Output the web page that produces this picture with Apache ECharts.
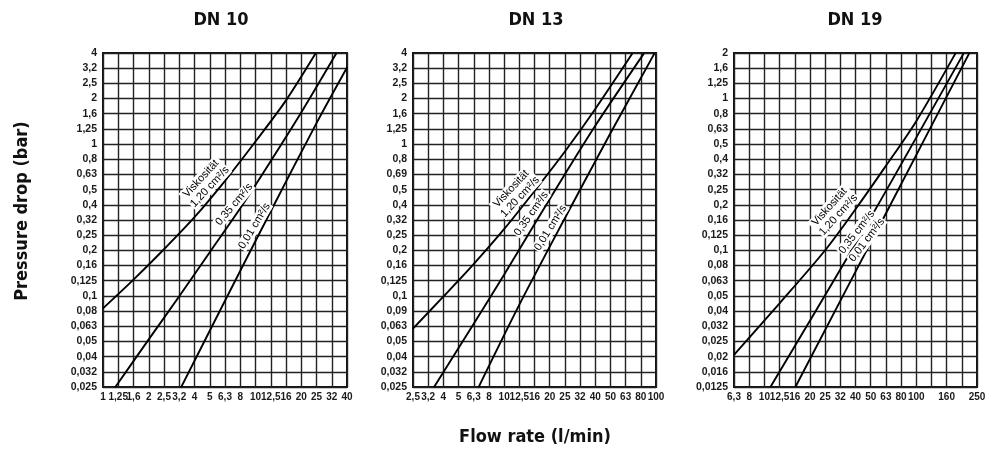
<!DOCTYPE html>
<html><head><meta charset="utf-8">
<script src="https://cdn.jsdelivr.net/npm/echarts@6/dist/echarts.min.js"></script>
<style>html,body{margin:0;padding:0;background:#fff}#c{width:990px;height:455px}</style>
</head><body><div id="c"></div>
<script>
// ---- tick labels ----
const dn10_x_labels = ['1','1,25','1,6','2','2,5','3,2','4','5','6,3','8','10','12,5','16','20','25','32','40'];
const dn13_x_labels = ['2,5','3,2','4','5','6,3','8','10','12,5','16','20','25','32','40','50','63','80','100'];
const dn19_x_labels = ['6,3','8','10','12,5','16','20','25','32','40','50','63','80','100','','160','','250'];
const dn10_y_labels = ['0,025','0,032','0,04','0,05','0,063','0,08','0,1','0,125','0,16','0,2','0,25','0,32','0,4','0,5','0,63','0,8','1','1,25','1,6','2','2,5','3,2','4'];
const dn13_y_labels = ['0,025','0,032','0,04','0,05','0,063','0,09','0,1','0,125','0,16','0,2','0,25','0,32','0,4','0,5','0,69','0,8','1','1,25','1,6','2','2,5','3,2','4'];
const dn19_y_labels = ['0,0125','0,016','0,02','0,025','0,032','0,04','0,05','0,063','0,08','0,1','0,125','0,16','0,2','0,25','0,32','0,4','0,5','0,63','0,8','1','1,25','1,6','2'];

const panel_titles = ['DN 10','DN 13','DN 19'];
const curve_names = ['Viskosität\n1,20 cm²/s','0,35 cm²/s','0,01 cm²/s'];

// ---- series values: flow rate (l/min) and pressure drop (bar) ----
const dn10_flow_120 = [1, 1.585, 2.512, 3.981, 6.31, 10, 15.85, 24.8];
const dn10_dp_120   = [0.0828, 0.128, 0.203, 0.33, 0.573, 1.04, 1.94, 3.96];
const dn10_flow_035 = [1.202, 1.995, 3.162, 5.012, 7.943, 12.59, 19.95, 33.9];
const dn10_dp_035   = [0.025, 0.0517, 0.0995, 0.194, 0.378, 0.773, 1.614, 3.96];
const dn10_flow_001 = [3.25, 6.31, 12.59, 25.12, 40];
const dn10_dp_001   = [0.025, 0.0929, 0.361, 1.374, 3.22];

const dn13_flow_120 = [2.5, 3.962, 6.279, 9.953, 15.77, 25, 39.62, 70];
const dn13_dp_120   = [0.0607, 0.0985, 0.1614, 0.274, 0.4875, 0.887, 1.69, 3.96];
const dn13_flow_035 = [3.45, 6.28, 9.95, 15.77, 25, 39.62, 83.3];
const dn13_dp_035   = [0.025, 0.065, 0.137, 0.294, 0.628, 1.312, 3.96];
const dn13_flow_001 = [6.78, 12.53, 25, 49.9, 97.7];
const dn13_dp_001   = [0.025, 0.0867, 0.322, 1.169, 3.96];

const dn19_flow_120 = [6.31, 12.59, 25.12, 39.81, 63.1, 100, 182];
const dn19_dp_120   = [0.0205, 0.0448, 0.1002, 0.1866, 0.36, 0.71, 2.0];
const dn19_flow_035 = [10.96, 47.9, 206];
const dn19_dp_035   = [0.0126, 0.152, 2.0];
const dn19_flow_001 = [16, 63.1, 224];
const dn19_dp_001   = [0.0126, 0.175, 2.0];

// logarithmic position (10·log10) -> one grid step per Renard step
const lg = v => 10 * Math.log10(v);
const pts = (f, p) => f.map((x, k) => [lg(x), lg(p[k])]);

const chart = echarts.init(document.getElementById('c'), null, {renderer: 'canvas'});

const grids = [
  {left: 103, top: 53, width: 244, height: 334},
  {left: 413, top: 53, width: 243, height: 334},
  {left: 734, top: 53, width: 243, height: 334}
];
const xr = [[0, 16, dn10_x_labels], [4, 20, dn13_x_labels], [8, 24, dn19_x_labels]];
const yr = [[-16, 6, dn10_y_labels], [-16, 6, dn13_y_labels], [-19, 3, dn19_y_labels]];

const gridLine = {show: true, lineStyle: {color: '#222', width: 1.4}};
const xAxes = xr.map((r, g) => ({
  type: 'value', gridIndex: g, min: r[0], max: r[1], interval: 1,
  axisLine: {show: false}, axisTick: {show: false}, splitLine: gridLine,
  axisLabel: {margin: 5, color: '#1a1a1a', fontSize: 10, fontWeight: 'bold',
    fontFamily: 'Liberation Sans, Arial, sans-serif',
    showMinLabel: true, showMaxLabel: true, hideOverlap: false,
    formatter: v => r[2][Math.round(v) - r[0]] ?? ''}
}));
const yAxes = yr.map((r, g) => ({
  type: 'value', gridIndex: g, min: r[0], max: r[1], interval: 1,
  axisLine: {show: false}, axisTick: {show: false}, splitLine: gridLine,
  axisLabel: {margin: 6, color: '#1a1a1a', fontSize: 10.5, fontWeight: 'bold',
    fontFamily: 'Liberation Sans, Arial, sans-serif',
    showMinLabel: true, showMaxLabel: true, hideOverlap: false,
    formatter: v => r[2][Math.round(v) - r[0]] ?? ''}
}));

function mp(name, fx, py, rot) {
  return {
    symbol: 'circle', symbolSize: 0, silent: true, animation: false,
    data: [{coord: [lg(fx), lg(py)], value: 0}],
    label: {show: true, position: 'inside', formatter: name, rotate: rot, fontSize: 11, lineHeight: 12,
      fontFamily: 'Liberation Sans, Arial, sans-serif', color: '#000', align: 'center',
      backgroundColor: '#fff', padding: [0, 1]}
  };
}
function line(g, f, p, name, lab) {
  return {
    type: 'line', xAxisIndex: g, yAxisIndex: g, data: pts(f, p), smooth: 0.3,
    symbol: 'none', animation: false, lineStyle: {color: '#000', width: 1.9},
    markPoint: mp(name, lab[0], lab[1], lab[2])
  };
}

const series = [
  line(0, dn10_flow_120, dn10_dp_120, curve_names[0], [4.69, 0.556, 47]),
  line(0, dn10_flow_035, dn10_dp_035, curve_names[1], [7.24, 0.40, 50]),
  line(0, dn10_flow_001, dn10_dp_001, curve_names[2], [9.85, 0.289, 59]),
  line(1, dn13_flow_120, dn13_dp_120, curve_names[0], [11.9, 0.477, 47]),
  line(1, dn13_flow_035, dn13_dp_035, curve_names[1], [15.1, 0.348, 55]),
  line(1, dn13_flow_001, dn13_dp_001, curve_names[2], [20.2, 0.281, 58]),
  line(2, dn19_flow_120, dn19_dp_120, curve_names[0], [28.7, 0.182, 48]),
  line(2, dn19_flow_035, dn19_dp_035, curve_names[1], [40.6, 0.132, 52]),
  line(2, dn19_flow_001, dn19_dp_001, curve_names[2], [47.3, 0.117, 53])
];

const headFont = 'bold 18px "DejaVu Sans Condensed", "Liberation Sans Narrow", sans-serif';
const graphic = [
  {type: 'text', x: 221, y: 20, style: {text: panel_titles[0], font: headFont, fill: '#111', textAlign: 'center', textVerticalAlign: 'middle'}},
  {type: 'text', x: 536, y: 20, style: {text: panel_titles[1], font: headFont, fill: '#111', textAlign: 'center', textVerticalAlign: 'middle'}},
  {type: 'text', x: 855, y: 20, style: {text: panel_titles[2], font: headFont, fill: '#111', textAlign: 'center', textVerticalAlign: 'middle'}},
  {type: 'text', x: 535, y: 437, style: {text: 'Flow rate (l/min)', font: headFont, fill: '#111', textAlign: 'center', textVerticalAlign: 'middle'}},
  {type: 'text', x: 22, y: 211, rotation: Math.PI / 2, style: {text: 'Pressure drop (bar)', font: headFont, fill: '#111', textAlign: 'center', textVerticalAlign: 'middle'}}
];

chart.setOption({
  backgroundColor: '#fff',
  animation: false,
  grid: grids.map(g => Object.assign({show: true, borderColor: '#111', borderWidth: 2, backgroundColor: 'transparent', containLabel: false}, g)),
  xAxis: xAxes,
  yAxis: yAxes,
  series: series,
  graphic: graphic
});
</script>
</body></html>
